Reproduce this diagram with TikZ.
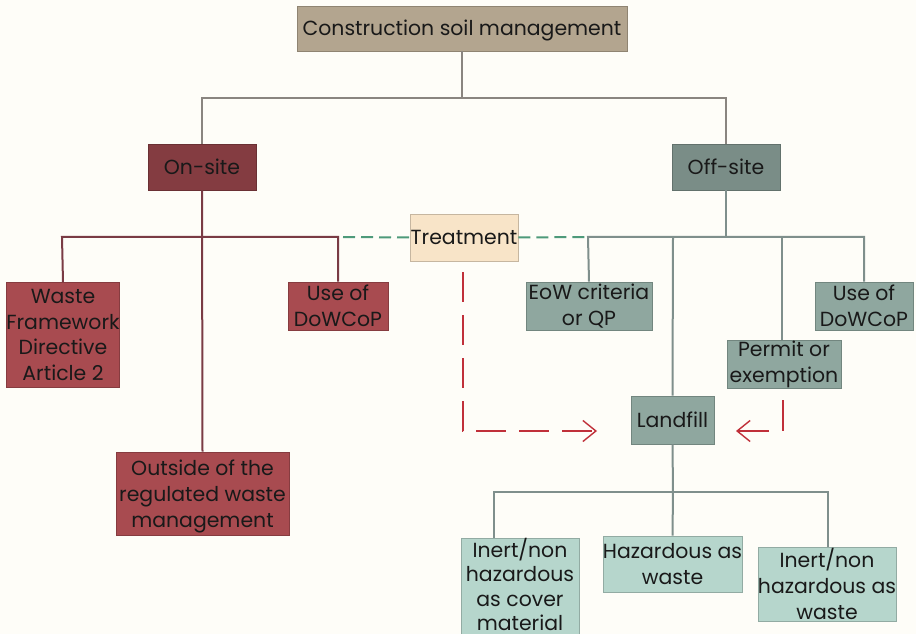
\documentclass[tikz,border=0pt]{standalone}
\usepackage{fontspec}
\setmainfont{Poppins}
\usetikzlibrary{arrows.meta}
\definecolor{bg}{HTML}{FEFDF8}
\definecolor{rootc}{HTML}{B3A58F}
\definecolor{onc}{HTML}{843C41}
\definecolor{offc}{HTML}{7A8D87}
\definecolor{redbox}{HTML}{A84B50}
\definecolor{greybox}{HTML}{8FA79F}
\definecolor{lightbox}{HTML}{B6D6CC}
\definecolor{treatc}{HTML}{F8E4C8}
\definecolor{redline}{HTML}{7A3B45}
\definecolor{greyline}{HTML}{7F8F8C}
\definecolor{topline}{HTML}{8A8580}
\definecolor{dashgreen}{HTML}{4E9A7A}
\definecolor{arrred}{HTML}{C0303A}
\newcommand{\nodesc}[1]{\raisebox{0pt}[\height][0pt]{#1}}
\tikzset{
  box/.style={draw=#1!80!black, line width=0.6bp, fill=#1, inner sep=0pt, align=center, font=\fontsize{20.5}{26}\selectfont, text=black!90},
  oneline/.style={text height=16bp, text depth=1bp},
  redl/.style={draw=redline, line width=2bp},
  greyl/.style={draw=greyline, line width=2bp},
  topl/.style={draw=topline, line width=2bp},
  greendash/.style={draw=dashgreen, line width=2bp, dash pattern=on 12bp off 6bp},
  redline2/.style={draw=arrred, line width=2bp},
  redarrow/.style={draw=arrred, line width=2bp, -{Straight Barb[length=13bp,width=21bp,line width=1.4bp]}},
}
\begin{document}
\begin{tikzpicture}[x=1bp,y=-1bp]
\fill[bg] (0,0) rectangle (916,634);
\useasboundingbox (0,0) rectangle (916,634);
\begin{scope}
\clip (0,0) rectangle (916,634);
% nodes
\node[box=rootc, oneline, minimum width=330bp, minimum height=45bp] (root) at (462,28.5) {Construction soil management};
\node[box=onc, oneline, minimum width=108bp, minimum height=46bp] (on) at (202,167) {On-site};
\node[box=offc, oneline, minimum width=108bp, minimum height=46bp] (off) at (726,167) {Off-site};
\node[box=treatc, oneline, minimum width=108bp, minimum height=47bp] (treat) at (464,237.5) {Treatment};
\node[box=redbox, minimum width=112bp, minimum height=105bp] (wfd) at (63,335) {Waste\\Framework\\Directive\\Article 2};
\node[box=redbox, minimum width=100bp, minimum height=48bp] (useL) at (338,306) {Use of\\DoWCoP};
\node[box=redbox, minimum width=173bp, minimum height=83bp] (outside) at (202.5,493.5) {Outside of the\\regulated waste\\\nodesc{management}};
\node[box=greybox, minimum width=126bp, minimum height=48bp] (eow) at (589,306) {EoW criteria\\or QP};
\node[box=greybox, minimum width=98bp, minimum height=48bp] (useR) at (864,306) {Use of\\DoWCoP};
\node[box=greybox, minimum width=114bp, minimum height=48bp] (permit) at (784,364) {Permit or\\exemption};
\node[box=greybox, oneline, minimum width=83bp, minimum height=48bp] (land) at (672.5,420) {Landfill};
% inert1 box runs past the lower edge of the picture
\filldraw[fill=lightbox, draw=lightbox!80!black, line width=0.6bp] (461,538) rectangle (579,660);
\node[box=lightbox, draw=none, fill=none, font=\fontsize{20.5}{24.5}\selectfont, minimum width=118bp, minimum height=90bp, anchor=north] (inert1) at (520,538) {Inert/non\\hazardous\\as cover\\material};
\node[box=lightbox, minimum width=139bp, minimum height=56bp] (haz) at (672.5,564) {Hazardous as\\waste};
\node[box=lightbox, minimum width=138bp, minimum height=74bp] (inert2) at (827,584) {Inert/non\\hazardous as\\waste};
% coordinates
\coordinate (topbar) at (462,98);
\coordinate (offbar) at (726,237);
\coordinate (landbar) at (673,492);
\coordinate (tdash) at (463,272);
\coordinate (tcorner) at (463,431);
\coordinate (tend) at (597,431);
\coordinate (pdash) at (783,400);
\coordinate (pcorner) at (783,431);
\coordinate (pstart) at (769,431);
\coordinate (pend) at (736,431);
% root connectors
\draw[topl] (root.south) -- (topbar);
\draw[topl] (on.north) -- (202,98) -- (726,98) -- (off.north);
% on-site
\draw[redl] (on.south) -- (outside.north);
\draw[redl] (wfd.north) -- (62,237) -- (338,237) -- (useL.north);
% off-site
\draw[greyl] (off.south) -- (offbar);
\draw[greyl] (eow.north) -- (588,237) -- (864,237) -- (useR.north);
\draw[greyl] (673,237) -- (land.north);
\draw[greyl] (782,237) -- (permit.north -| 782,0);
% landfill
\draw[greyl] (land.south) -- (landbar);
\draw[greyl] (494,538) -- (494,492) -- (828,492) -- (828,547);
\draw[greyl] (landbar) -- (haz.north);
% treatment dashes
\draw[greendash] (343,237) -- (treat.west);
\draw[greendash] (treat.east) -- (586,237);
% red arrows
\draw[redarrow, dash pattern=on 30bp off 13bp] (tdash) -- (tcorner) -- (tend);
\draw[redline2] (pdash) -- (pcorner);
\draw[redarrow] (pstart) -- (pend);
\end{scope}
\end{tikzpicture}
\end{document}
